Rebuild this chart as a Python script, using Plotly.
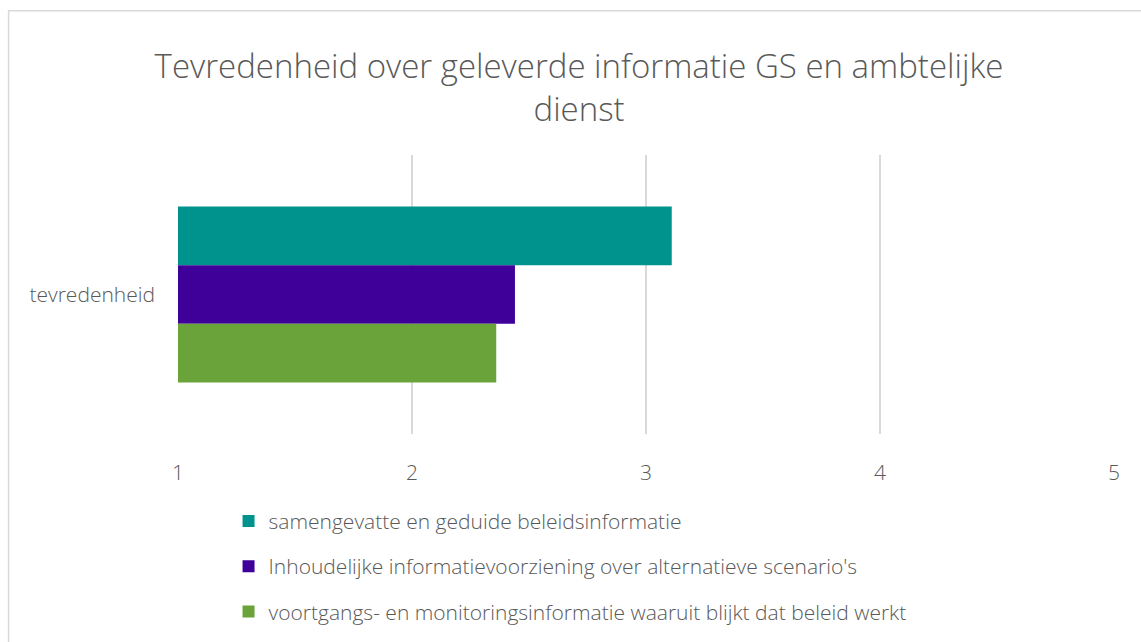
import plotly.graph_objects as go

CATEGORIES = ['tevredenheid']
SERIES_NAMES = [
    'samengevatte en geduide beleidsinformatie',
    "Inhoudelijke informatievoorziening over alternatieve scenario's",
    'voortgangs- en monitoringsinformatie waaruit blijkt dat beleid werkt',
]
SERIES_VALUES = [
    [3.11],
    [2.44],
    [2.36],
]
SERIES_COLORS = ['#00938E', '#3F009A', '#6AA33A']
X_TICKS = [1, 2, 3, 4, 5]

TEXT_COLOR = '#595959'
GRID_COLOR = '#D9D9D9'
FONT = 'Open Sans'

fig = go.Figure()
for i, (name, values, color) in enumerate(zip(SERIES_NAMES, SERIES_VALUES, SERIES_COLORS)):
    fig.add_trace(go.Bar(
        y=CATEGORIES,
        x=values,
        name=name,
        orientation='h',
        marker_color=color,
        marker_line_width=0,
        legendgroup=str(i),
    ))

fig.update_layout(
    width=1141,
    height=642,
    margin=dict(l=178, r=27, t=155, b=207),
    paper_bgcolor='white',
    plot_bgcolor='white',
    font=dict(family=FONT, color=TEXT_COLOR, size=21),
    barmode='group',
    bargap=0.37,
    bargroupgap=0,
    title=dict(
        text='Tevredenheid over geleverde informatie GS en ambtelijke<br>dienst',
        x=0.5075,
        xanchor='center',
        y=0.878,
        yanchor='middle',
        font=dict(family=FONT, size=33, color=TEXT_COLOR, weight=300),
    ),
    legend=dict(
        orientation='v',
        x=0.054,
        xanchor='left',
        y=-0.235,
        yanchor='top',
        font=dict(size=21, color=TEXT_COLOR, weight=300),
        tracegroupgap=15,
        bgcolor='rgba(0,0,0,0)',
    ),
    showlegend=True,
    shapes=[dict(
        type='rect', xref='paper', yref='paper',
        x0=-0.181, x1=1.1, y0=-0.8, y1=1.517,
        line=dict(color=GRID_COLOR, width=1.5),
        fillcolor='rgba(0,0,0,0)',
        layer='below',
    )],
)

fig.update_xaxes(
    range=[1, 5],
    tickvals=X_TICKS,
    showgrid=True,
    gridcolor=GRID_COLOR,
    gridwidth=1.5,
    zeroline=False,
    showline=False,
    ticks='',
    ticklabelstandoff=24,
    tickfont=dict(size=21, color=TEXT_COLOR, weight=300),
    fixedrange=True,
)
fig.update_yaxes(
    autorange='reversed',
    showgrid=False,
    zeroline=False,
    showline=False,
    ticks='',
    ticklabelstandoff=22,
    tickfont=dict(size=21, color=TEXT_COLOR, weight=300),
    fixedrange=True,
)

# drop the default page margin so the chart sits at the window's top-left
fig.write_html(
    'out.html',
    config={'displayModeBar': False},
    post_script="document.body.style.margin='0';",
)
